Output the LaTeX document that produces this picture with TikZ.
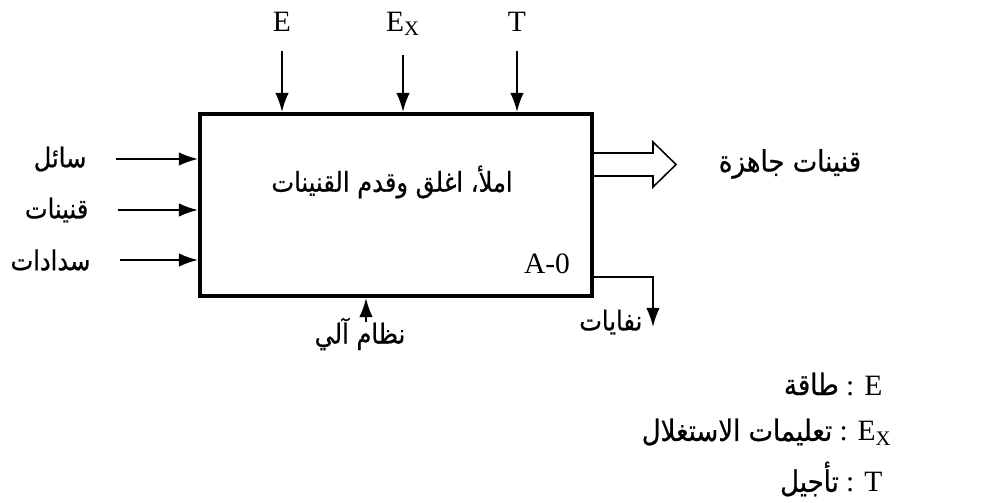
\documentclass[tikz,border=0pt]{standalone}
\usepackage{fontspec}
\setmainfont{Liberation Serif}
\newfontfamily\arabicfont[Script=Arabic, FakeStretch=0.88, FakeBold=0.6]{DejaVu Sans}
\TeXXeTstate=1
\usetikzlibrary{arrows.meta,calc}

\tikzset{
    arr/.style={line width=1.4pt, -{Latex[length=4.8mm,width=3.4mm]}},
    lat/.style={font=\fontsize{21}{23}\selectfont, inner sep=1pt},
    ar/.style={font=\fontsize{19.5}{22}\arabicfont, inner sep=1pt},
    actbox/.style={draw, line width=2.8pt, minimum width=9.8cm, minimum height=4.55cm}
}
\newcommand{\rl}[1]{\beginR #1\endR}

\begin{document}
\begin{tikzpicture}[x=0.025cm, y=-0.025cm]
    \useasboundingbox (0,0) rectangle (992,502);

    % Activity box
    \node[actbox] (act) at (396,205) {};
    \node[ar] (actTxt) at (392,182) {\rl{املأ، اغلق وقدم القنينات}};
    \node[lat] (actId) at (547,264) {A-0};

    % Controls
    \foreach \nm/\x/\lab in {ctlE/282/E, ctlEx/403/E\textsubscript{X}, ctlT/517/T} {
        \node[lat, anchor=base] (\nm) at (\x,31) {\lab};
        \draw[arr, shorten <=4.5mm] (\nm.south -| \x,0) -- (act.north -| \x,0);
    }

    % Inputs
    \node[ar, anchor=east] (inLiq) at (88,159) {\rl{سائل}};
    \node[ar, anchor=east] (inBot) at (90,210) {\rl{قنينات}};
    \node[ar, anchor=east] (inCap) at (92,260) {\rl{سدادات}};
    \foreach \nm in {inLiq,inBot,inCap}
        \draw[arr, shorten <=7mm] (\nm.east) -- (\nm.east -| act.west);

    % Output (hollow arrow)
    \node[ar, font=\fontsize{21}{23}\arabicfont] (outReady) at (790,164) {\rl{قنينات جاهزة}};
    \draw[line width=1.1pt, line join=miter] (act.east |- 0,153) -- (653,153) -- (653,142)
        -- (676,164.5) -- (653,187) -- (653,176) -- (act.east |- 0,176);

    % Waste
    \node[ar, anchor=east] (waste) at (644,322) {\rl{نفايات}};
    \coordinate (wasteEnd) at (653,327);
    \draw[arr] (act.east |- 0,277) -| (wasteEnd);

    % Mechanism
    \node[ar] (mech) at (360,334) {\rl{نظام آلي}};
    \coordinate (mechStart) at (366,322);
    \draw[arr] (mechStart) -- (act.south -| mechStart);

    % Legend
    \node[lat, anchor=east] (legE) at (884,384) {{\arabicfont\rl{طاقة}} : E};
    \node[lat, anchor=east] (legEx) at (893,432) {{\arabicfont\rl{تعليمات الاستغلال}} : E\textsubscript{X}};
    \node[lat, anchor=east] (legT) at (884,479) {{\arabicfont\rl{تأجيل}} : T};
\end{tikzpicture}
\end{document}
